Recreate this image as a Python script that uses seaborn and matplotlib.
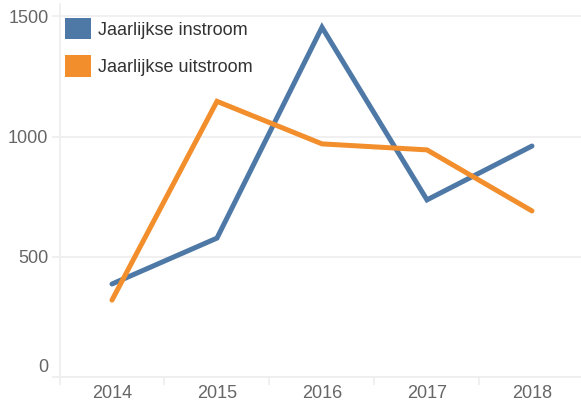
import matplotlib
matplotlib.use("Agg")
import matplotlib.pyplot as plt
import pandas as pd
import seaborn as sns
from matplotlib.patches import Patch
from matplotlib import transforms
from matplotlib.ticker import FixedLocator

# Yearly inflow / outflow
years = [2014, 2015, 2016, 2017, 2018]
instroom = [387, 578, 1455, 737, 961]
uitstroom = [320, 1147, 970, 945, 691]
series_names = ["Jaarlijkse instroom", "Jaarlijkse uitstroom"]
series_colors = ["#4e79a7", "#f28e2b"]
y_ticks = [0, 500, 1000, 1500]

df = pd.concat([
    pd.DataFrame({"jaar": years, "aantal": instroom, "reeks": series_names[0]}),
    pd.DataFrame({"jaar": years, "aantal": uitstroom, "reeks": series_names[1]}),
])

sns.set_theme(style="white")
plt.rcParams["font.family"] = ["Liberation Sans", "DejaVu Sans"]

grid_col = "#eeeeee"
text_col = "#666666"

fig = plt.figure(figsize=(5.81, 4.05), dpi=100)
ax = fig.add_axes([59.5 / 581, 28 / 405, 1 - 59.5 / 581, 373 / 405])

sns.lineplot(data=df, x="jaar", y="aantal", hue="reeks", hue_order=series_names,
             palette=series_colors, linewidth=3.6, ax=ax, legend=False,
             solid_capstyle="round", solid_joinstyle="miter")

ax.set_xlim(2013.5, 2018.467)
ax.set_ylim(0, 1552)

# y axis: light grid lines that also extend left as tick marks
ax.set_yticks(y_ticks)
ax.set_yticklabels([str(v) for v in y_ticks])
ax.yaxis.grid(True, color=grid_col, linewidth=1.2)
ax.tick_params(axis="y", length=5.8, width=1.2, color=grid_col, pad=2.2,
               labelsize=13, labelcolor=text_col, left=True)
# keep the zero label clear of the baseline
zero_lbl = ax.get_yticklabels()[0]
zero_lbl.set_transform(zero_lbl.get_transform() +
                       transforms.ScaledTranslation(0, 12 / 100, fig.dpi_scale_trans))

# x axis: category labels centred, separators between categories
ax.set_xticks(years)
ax.set_xticklabels([str(y) for y in years])
ax.xaxis.set_minor_locator(FixedLocator([y - 0.5 for y in years] + [years[-1] + 0.5]))
ax.tick_params(axis="x", which="major", length=0, pad=6, labelsize=13, labelcolor=text_col)
ax.tick_params(axis="x", which="minor", length=5.8, width=1.2, color=grid_col, bottom=True)
ax.xaxis.grid(False)
ax.set_xlabel("")
ax.set_ylabel("")

for side in ["top", "right"]:
    ax.spines[side].set_visible(False)
for side in ["left", "bottom"]:
    ax.spines[side].set_color(grid_col)
    ax.spines[side].set_linewidth(1.2)

handles = [Patch(facecolor=c, edgecolor="none") for c in series_colors]
fig.legend(handles, series_names, loc="upper left",
           bbox_to_anchor=(65 / 581, 1 - 18 / 405), bbox_transform=fig.transFigure,
           frameon=False, fontsize=13, handlelength=1.45, handleheight=1.45,
           handletextpad=0.4, labelspacing=0.88, borderpad=0, borderaxespad=0,
           labelcolor="#333333")

fig.savefig("out.png", dpi=100, facecolor="white")
